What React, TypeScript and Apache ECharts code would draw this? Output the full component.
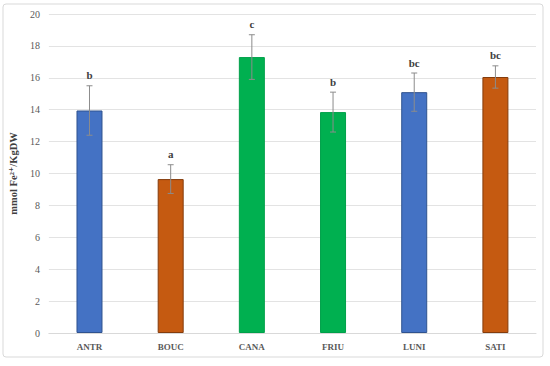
import React, { useEffect, useRef } from "react";
import * as echarts from "echarts";

const categories = ["ANTR", "BOUC", "CANA", "FRIU", "LUNI", "SATI"];
const values = [13.95, 9.65, 17.3, 13.85, 15.1, 16.05];
const errors = [1.55, 0.9, 1.4, 1.25, 1.2, 0.7];
const letters = ["b", "a", "c", "b", "bc", "bc"];
const barColors = ["#4472C4", "#C55A11", "#00B050", "#00B050", "#4472C4", "#C55A11"];
const borderColors = ["#2F528F", "#843C0C", "#00A04A", "#00A04A", "#2F528F", "#843C0C"];
const yTicks = [0, 2, 4, 6, 8, 10, 12, 14, 16, 18, 20];

const FONT = "'Liberation Serif', 'DejaVu Serif', serif";

export default function App() {
  const ref = useRef<HTMLDivElement>(null);
  useEffect(() => {
    document.body.style.margin = "0";
    if (!ref.current) return;
    const chart = echarts.init(ref.current, undefined, { renderer: "svg" });
    const errData = categories.map((c, i) => [i, values[i] - errors[i], values[i] + errors[i], letters[i]]);
    chart.setOption({
      animation: false,
      backgroundColor: "#ffffff",
      graphic: [
        {
          type: "rect",
          shape: { x: 3, y: 4, width: 540, height: 353, r: 3 },
          style: { fill: "none", stroke: "#d9d9d9", lineWidth: 1 },
          silent: true,
          z: -1,
        },
      ],
      grid: { left: 44, right: 14, top: 14, bottom: 33 },
      xAxis: {
        type: "category",
        data: categories,
        axisLine: { show: true, lineStyle: { color: "#d9d9d9" } },
        axisTick: { show: false },
        axisLabel: { color: "#595959", fontFamily: FONT, fontSize: 9, fontWeight: "bold", margin: 9 },
      },
      yAxis: {
        type: "value",
        min: yTicks[0],
        max: yTicks[yTicks.length - 1],
        interval: 2,
        name: "mmol Fe²⁺/KgDW",
        nameLocation: "middle",
        nameGap: 25,
        nameTextStyle: { color: "#404040", fontFamily: FONT, fontSize: 10.5, fontWeight: "bold" },
        axisLine: { show: false },
        axisTick: { show: false },
        axisLabel: { color: "#595959", fontFamily: FONT, fontSize: 10, margin: 9 },
        splitLine: { lineStyle: { color: "#e3e3e3", width: 1 } },
      },
      series: [
        {
          type: "bar",
          barWidth: 26,
          data: values.map((v, i) => ({
            value: v,
            itemStyle: { color: barColors[i], borderColor: borderColors[i], borderWidth: 1 },
          })),
        },
        {
          type: "custom",
          data: errData,
          z: 10,
          renderItem: (params: any, api: any) => {
            const x = api.value(0);
            const lo = api.coord([x, api.value(1)]);
            const hi = api.coord([x, api.value(2)]);
            const letter = letters[params.dataIndex];
            const cap = 3;
            const ls = { stroke: "#8c8c8c", lineWidth: 1 };
            return {
              type: "group",
              children: [
                { type: "line", shape: { x1: lo[0], y1: lo[1], x2: hi[0], y2: hi[1] }, style: ls },
                { type: "line", shape: { x1: lo[0] - cap, y1: lo[1], x2: lo[0] + cap, y2: lo[1] }, style: ls },
                { type: "line", shape: { x1: hi[0] - cap, y1: hi[1], x2: hi[0] + cap, y2: hi[1] }, style: ls },
                {
                  type: "text",
                  x: hi[0],
                  y: hi[1] - 5,
                  style: {
                    text: letter,
                    fill: "#404040",
                    font: `bold 11px ${FONT}`,
                    align: "center",
                    verticalAlign: "bottom",
                  },
                },
              ],
            };
          },
        },
      ],
    });
    return () => chart.dispose();
  }, []);
  return <div ref={ref} style={{ width: 550, height: 366 }} />;
}
